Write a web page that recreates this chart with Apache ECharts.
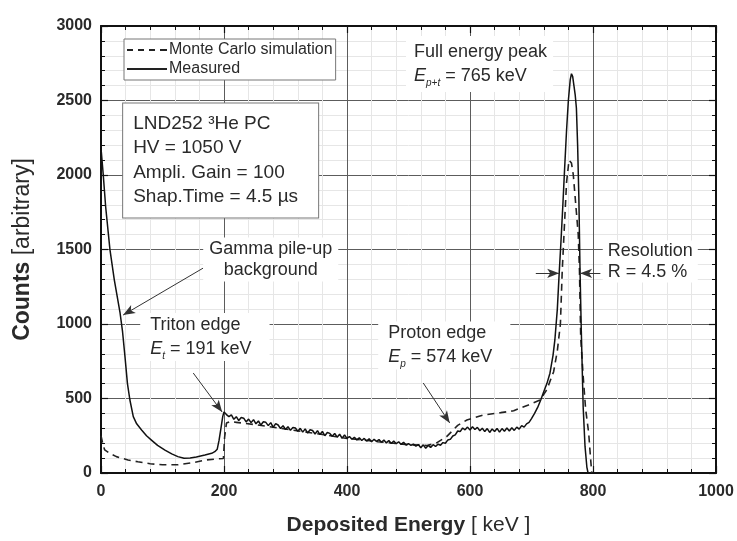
<!DOCTYPE html>
<html>
<head>
<meta charset="utf-8">
<script src="https://cdn.jsdelivr.net/npm/echarts@6/dist/echarts.min.js"></script>
<style>
  html, body { margin: 0; padding: 0; background: #fff; }
  #chart { width: 737px; height: 541px; }
</style>
</head>
<body>
<div id="chart"></div>
<script>
// ---- axis ranges / tick labels ----
const energyTicks = [0, 200, 400, 600, 800, 1000];
const countTicks = [0, 500, 1000, 1500, 2000, 2500, 3000];

// ---- measured pulse-height spectrum (keV, counts) ----
// rising low-energy part up to the triton edge
const measuredLowE = [0, 3.5, 7.6, 14.6, 21.7, 31, 35, 39, 43, 47, 52.5, 58, 66, 74, 82, 92, 104, 115, 125, 135, 145, 155, 169, 180, 185, 189, 192, 195, 198];
const measuredLowC = [2180, 2010, 1785, 1497, 1295, 1074, 950, 780, 600, 490, 378, 330, 289, 250, 221, 185, 154, 128, 110, 99, 100, 108, 121, 132, 143, 160, 220, 300, 380];
// plateau between triton edge and full energy peak, sampled every 4 keV from 200 keV
const measuredMidStart = 200;
const measuredMidStep = 4;
const measuredMidC = [
  410, 392, 378, 390, 360, 378, 352, 372, 368, 343, 362, 338, 358, 330, 349, 322, 344, 340, 318, 338, 306, 331, 322, 298, 318,
  292, 311, 286, 306, 302, 280, 300, 274, 296, 268, 290, 285, 262, 284, 258, 279, 250, 272, 266, 246, 266, 240, 260, 234, 255,
  232, 245, 226, 240, 222, 236, 218, 232, 214, 230, 210, 226, 212, 224, 206, 221, 202, 218, 198, 214, 196, 210, 192, 206, 188,
  197, 186, 194, 180, 191, 170, 189, 166, 185, 172, 190, 178, 194, 186, 204, 200, 222, 226, 248, 256, 282, 278, 302, 290, 308,
  288, 310, 292, 306, 284, 300, 278, 298, 272, 296, 278, 299, 274, 298, 280, 302, 282, 304, 286, 308, 294, 318, 308, 330, 340
];
// full energy peak
const measuredPeakE = [700, 705, 710, 715, 719, 725, 730, 735, 738, 742, 745, 748, 751, 754, 757, 760, 763, 765, 767, 769, 771, 773, 775, 777, 779, 781, 784, 787, 790, 792];
const measuredPeakC = [365, 400, 440, 490, 535, 600, 670, 790, 893, 1100, 1340, 1560, 1800, 2056, 2300, 2503, 2640, 2680, 2660, 2600, 2540, 2450, 2200, 1850, 1340, 950, 445, 180, 40, 0];

// ---- Monte Carlo simulation (keV, counts) ----
const simEnergy = [
  0, 3, 6, 15, 25, 44, 60, 80, 100, 125, 150, 170, 190, 199, 201, 204, 210, 220, 250, 300, 350, 400, 450, 500, 530, 545, 562, 580, 595,
  622, 650, 671, 695, 714, 725, 736, 742, 747, 750, 754, 757, 761, 765, 768, 771, 774, 776, 778, 780, 784, 788, 793, 796, 798
];
const simCounts = [
  250, 195, 155, 130, 110, 87, 75, 62, 55, 55, 70, 87, 95, 97, 240, 335, 345, 340, 325, 295, 265, 232, 210, 190, 185, 200, 244, 320, 356,
  389, 405, 418, 456, 490, 560, 680, 820, 1000, 1360, 1700, 1950, 2100, 2080, 2000, 1850, 1700, 1600, 1360, 913, 650, 430, 268, 100, 0
];

const FONT = '"Liberation Sans", Arial, Helvetica, sans-serif';
const TXT = '#2a2a2a';

const zip = (xs, ys) => xs.map((x, i) => [x, ys[i]]);
const measuredData = zip(measuredLowE, measuredLowC)
  .concat(measuredMidC.map((c, i) => [measuredMidStart + i * measuredMidStep, c]))
  .concat(zip(measuredPeakE, measuredPeakC));

const chart = echarts.init(document.getElementById('chart'), null, { renderer: 'canvas' });

const baseX = {
  type: 'value',
  min: energyTicks[0],
  max: energyTicks[energyTicks.length - 1],
  interval: energyTicks[1] - energyTicks[0],
  axisLine: { show: true, onZero: false, lineStyle: { color: '#111', width: 2 } },
  axisTick: { show: true, inside: true, length: 7, lineStyle: { color: '#111', width: 1.2 } },
  minorTick: { show: true, splitNumber: 5, length: 4, lineStyle: { color: '#111', width: 1 } }
};
const baseY = {
  type: 'value',
  min: countTicks[0],
  max: countTicks[countTicks.length - 1],
  interval: countTicks[1] - countTicks[0],
  axisLine: { show: true, onZero: false, lineStyle: { color: '#111', width: 2 } },
  axisTick: { show: true, inside: true, length: 7, lineStyle: { color: '#111', width: 1.2 } },
  minorTick: { show: true, splitNumber: 5, length: 4, lineStyle: { color: '#111', width: 1 } }
};
const tickLabel = {
  fontFamily: FONT, fontWeight: 'bold', fontSize: 16, color: TXT,
  formatter: (v) => String(v)
};

// legend glyphs: a short solid stroke and a dashed stroke (bounding box 40 x 16)
const solidIcon = 'path://M0,0h0.01v0.01h-0.01zM0,7h40v2h-40zM40,16h-0.01v-0.01h0.01z';
const dashIcon = 'path://M0,0h0.01v0.01h-0.01zM0,7h6v2h-6zM11,7h6v2h-6zM22,7h6v2h-6zM33,7h7v2h-7zM40,16h-0.01v-0.01h0.01z';

// arrows pointing at spectrum features, in data coordinates
const arrows = [
  [[166, 1375], [36, 1060]],
  [[150, 671], [197, 409]],
  [[524, 604], [567, 336]],
  [[707, 1340], [745, 1340]],
  [[812, 1340], [779, 1340]]
];

chart.setOption({
  animation: false,
  backgroundColor: '#fff',
  grid: { left: 101, right: 21, top: 26, bottom: 68, containLabel: false },
  legend: {
    data: [
      { name: 'Monte Carlo simulation', icon: dashIcon },
      { name: 'Measured', icon: solidIcon }
    ],
    orient: 'vertical',
    left: 124, top: 39,
    itemWidth: 40, itemHeight: 16, itemGap: 3,
    padding: [3, 3, 3, 3],
    backgroundColor: '#fff',
    borderColor: '#777', borderWidth: 1, borderRadius: 0,
    itemStyle: { color: '#222', borderWidth: 0 },
    lineStyle: { width: 0 },
    textStyle: { fontFamily: FONT, fontSize: 16, color: TXT, padding: [0, 0, 0, -3] },
    selectedMode: false
  },
  xAxis: [
    Object.assign({}, baseX, {
      position: 'bottom',
      axisLabel: Object.assign({ margin: 11 }, tickLabel),
      splitLine: { show: true, lineStyle: { color: '#5c5c5c', width: 1 } },
      minorSplitLine: { show: true, lineStyle: { color: '#e6e6e6', width: 1 } },
      name: '{b|Deposited Energy} [ keV ]',
      nameLocation: 'middle',
      nameGap: 42,
      nameTextStyle: {
        fontFamily: FONT, fontSize: 21, color: TXT,
        rich: { b: { fontFamily: FONT, fontSize: 21, fontWeight: 'bold', color: TXT } }
      }
    }),
    Object.assign({}, baseX, {
      position: 'top',
      axisLabel: { show: false },
      splitLine: { show: false }
    })
  ],
  yAxis: [
    Object.assign({}, baseY, {
      position: 'left',
      axisLabel: Object.assign({ margin: 9 }, tickLabel),
      splitLine: { show: true, lineStyle: { color: '#5c5c5c', width: 1 } },
      minorSplitLine: { show: true, lineStyle: { color: '#e6e6e6', width: 1 } },
      name: '{b|Counts} [arbitrary]',
      nameLocation: 'middle',
      nameGap: 67,
      nameTextStyle: {
        fontFamily: FONT, fontSize: 23, color: TXT,
        rich: { b: { fontFamily: FONT, fontSize: 23, fontWeight: 'bold', color: TXT } }
      }
    }),
    Object.assign({}, baseY, {
      position: 'right',
      axisLabel: { show: false },
      splitLine: { show: false }
    })
  ],
  series: [
    {
      name: 'Monte Carlo simulation',
      type: 'line',
      data: zip(simEnergy, simCounts),
      symbol: 'none',
      lineStyle: { color: '#222', width: 1.6, type: [7, 5] },
      itemStyle: { color: '#222' },
      z: 3
    },
    {
      name: 'Measured',
      type: 'line',
      data: measuredData,
      symbol: 'none',
      lineStyle: { color: '#111', width: 1.5 },
      itemStyle: { color: '#111' },
      z: 4,
      markLine: {
        silent: true,
        symbol: ['none', 'arrow'],
        symbolSize: [7, 12],
        label: { show: false },
        lineStyle: { color: '#333', width: 1, type: 'solid' },
        emphasis: { disabled: true },
        data: arrows.map(a => [{ coord: a[0] }, { coord: a[1] }])
      }
    }
  ]
});

// ---- text annotations anchored in data coordinates ----
const toPx = (p) => chart.convertToPixel({ xAxisIndex: 0, yAxisIndex: 0 }, p);

const subRich = {
  i: { fontFamily: FONT, fontSize: 18, fontStyle: 'italic', color: TXT, lineHeight: 24 },
  s: { fontFamily: FONT, fontSize: 10, fontStyle: 'italic', color: TXT, verticalAlign: 'bottom', lineHeight: 10 },
  n: { fontFamily: FONT, fontSize: 18, color: TXT, lineHeight: 24 }
};

const notes = [
  { at: [276, 1433], align: 'center', text: 'Gamma pile-up\nbackground', lh: 21, pad: [1, 6, 1, 6] },
  { at: [80, 913], align: 'left', text: '{n|Triton edge}\n{i|E}{s|t}{n| = 191 keV}', lh: 24, pad: [0, 18, 0, 10] },
  { at: [467, 856], align: 'left', text: '{n|Proton edge}\n{i|E}{s|p}{n| = 574 keV}', lh: 24, pad: [0, 18, 0, 10] },
  { at: [509, 2745], align: 'left', text: '{n|Full energy peak}\n{i|E}{s|p+t}{n| = 765 keV}', lh: 22, pad: [4, 6, 4, 8] },
  { at: [824, 1419], align: 'left', text: 'Resolution\nR = 4.5 %', lh: 21, pad: [0, 5, 0, 5] }
];

const graphics = notes.map(n => {
  const p = toPx(n.at);
  return {
    type: 'text',
    x: p[0] - (n.align === 'left' ? n.pad[3] : 0),
    y: p[1],
    z: 50,
    style: {
      text: n.text,
      rich: subRich,
      fontFamily: FONT, fontSize: 18, fill: TXT,
      lineHeight: n.lh,
      align: n.align, verticalAlign: 'middle',
      backgroundColor: '#fff',
      padding: n.pad
    }
  };
});

// detector settings box
const boxPx = toPx([36, 2480]);
graphics.push({
  type: 'text',
  x: boxPx[0], y: boxPx[1],
  z: 50,
  style: {
    text: 'LND252 ³He PC\nHV = 1050 V\nAmpli. Gain = 100\nShap.Time = 4.5 µs',
    fontFamily: FONT, fontSize: 19, fill: TXT,
    lineHeight: 24.5,
    align: 'left', verticalAlign: 'top',
    width: 175,
    backgroundColor: '#fff',
    borderColor: '#777', borderWidth: 1,
    padding: [8, 10, 8, 10]
  }
});

chart.setOption({ graphic: graphics });
</script>
</body>
</html>
